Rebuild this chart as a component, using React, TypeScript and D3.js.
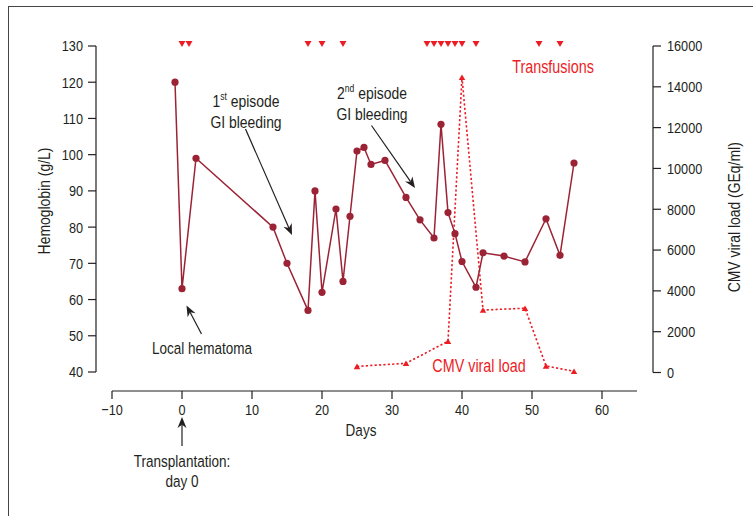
import React from "react";
import * as d3 from "d3";

const hbDays = [-1, 0, 2, 13, 15, 18, 19, 20, 22, 23, 24, 25, 26, 27, 29, 32, 34, 36, 37, 38, 39, 40, 42, 43, 46, 49, 52, 54, 56];
const hbValues = [120, 63, 99, 80, 70, 57, 90, 62, 85, 65, 83, 101, 102, 97.3, 98.4, 88.2, 82, 77, 108.4, 84, 78.2, 70.5, 63.4, 72.9, 72, 70.4, 82.3, 72.2, 97.7];

const cmvDays = [25, 32, 38, 40, 43, 49, 52, 56];
const cmvValues = [300, 450, 1530, 14470, 3060, 3150, 320, 60];

const transfusionDays = [0, 1, 18, 20, 23, 35, 36, 37, 38, 39, 40, 42, 51, 54];

const xTicks = [-10, 0, 10, 20, 30, 40, 50, 60];
const hbTicks = [40, 50, 60, 70, 80, 90, 100, 110, 120, 130];
const cmvTicks = [0, 2000, 4000, 6000, 8000, 10000, 12000, 14000, 16000];

const FONT = "'Liberation Sans', Arial, sans-serif";
const INK = "#231f20";
const HB = "#9b2335";
const RED = "#ed1c24";
const SX = 0.82;

type TProps = {
  x: number; y: number; size: number; fill?: string; anchor?: string; rotate?: boolean; mid?: boolean; children: React.ReactNode;
};
function T({ x, y, size, fill = INK, anchor = "middle", rotate = false, mid = true, children }: TProps) {
  return (
    <text
      transform={`translate(${x},${y})${rotate ? " rotate(-90)" : ""} scale(${SX},1)`}
      textAnchor={anchor}
      dy={mid ? "0.35em" : undefined}
      fontSize={size}
      fill={fill}
    >
      {children}
    </text>
  );
}

function Arrow({ x1, y1, x2, y2 }: { x1: number; y1: number; x2: number; y2: number }) {
  const ang = Math.atan2(y2 - y1, x2 - x1);
  const L = 11, W = 4.5;
  const bx = x2 - L * Math.cos(ang), by = y2 - L * Math.sin(ang);
  const nx = -Math.sin(ang), ny = Math.cos(ang);
  const mx = x2 - (L * 0.7) * Math.cos(ang), my = y2 - (L * 0.7) * Math.sin(ang);
  return (
    <g>
      <line x1={x1} y1={y1} x2={mx} y2={my} stroke={INK} strokeWidth={1.2} />
      <path d={`M${x2},${y2} L${bx + nx * W},${by + ny * W} L${mx},${my} L${bx - nx * W},${by - ny * W} Z`} fill={INK} />
    </g>
  );
}

export default function App() {
  const x = d3.scaleLinear().domain([-10, 65]).range([112, 637]);
  const yHb = d3.scaleLinear().domain([40, 130]).range([372, 46]);
  const yCmv = d3.scaleLinear().domain([0, 16000]).range([372.5, 46]);

  const hbPts = hbDays.map((d, i) => [x(d), yHb(hbValues[i])] as [number, number]);
  const cmvPts = cmvDays.map((d, i) => [x(d), yCmv(cmvValues[i])] as [number, number]);
  const line = d3.line();

  const tri = (cx: number, cy: number, s: number, up: boolean) => {
    const h = s * 0.85;
    return up
      ? `M${cx},${cy - h / 2} L${cx + s / 2},${cy + h / 2} L${cx - s / 2},${cy + h / 2} Z`
      : `M${cx},${cy + h / 2} L${cx + s / 2},${cy - h / 2} L${cx - s / 2},${cy - h / 2} Z`;
  };

  return (
    <svg width={753} height={516} style={{ position: "absolute", left: 0, top: 0 }} fontFamily={FONT}>
      <rect x={0} y={0} width={753} height={516} fill="#fff" />
      <rect x={8.5} y={6.5} width={760} height={530} fill="none" stroke="#444" strokeWidth={1} />

      {/* left axis */}
      <line x1={96} x2={96} y1={yHb(130)} y2={yHb(40)} stroke={INK} strokeWidth={1.2} />
      {hbTicks.map((t) => (
        <g key={t}>
          <line x1={88} x2={96} y1={yHb(t)} y2={yHb(t)} stroke={INK} strokeWidth={1.2} />
          <T x={83} y={yHb(t)} anchor="end" size={15.5}>{t}</T>
        </g>
      ))}
      <T x={50} y={(yHb(130) + yHb(40)) / 2 - 8} size={17} rotate mid={false}>Hemoglobin (g/L)</T>

      {/* right axis */}
      <line x1={653} x2={653} y1={yCmv(16000)} y2={yCmv(0)} stroke={INK} strokeWidth={1.2} />
      {cmvTicks.map((t) => (
        <g key={t}>
          <line x1={653} x2={661} y1={yCmv(t)} y2={yCmv(t)} stroke={INK} strokeWidth={1.2} />
          <T x={667} y={yCmv(t)} anchor="start" size={15.5}>{t}</T>
        </g>
      ))}
      <T x={740} y={(yCmv(16000) + yCmv(0)) / 2 + 8} size={17} rotate mid={false}>CMV viral load (GEq/ml)</T>

      {/* x axis */}
      <line x1={x(-10)} x2={x(65)} y1={391} y2={391} stroke={INK} strokeWidth={1.2} />
      {xTicks.map((t) => (
        <g key={t}>
          <line x1={x(t)} x2={x(t)} y1={391} y2={399} stroke={INK} strokeWidth={1.2} />
          <T x={x(t)} y={410} size={15.5}>{t < 0 ? `\u2212${Math.abs(t)}` : t}</T>
        </g>
      ))}
      <T x={361} y={430} size={16.5}>Days</T>

      {/* CMV line */}
      <path d={line(cmvPts) || ""} fill="none" stroke={RED} strokeWidth={1.6} strokeDasharray="2.2,2.2" />
      {cmvPts.map((p, i) => (
        <path key={i} d={tri(p[0], p[1], 6.5, true)} fill={RED} />
      ))}

      {/* Hemoglobin */}
      <path d={line(hbPts) || ""} fill="none" stroke={HB} strokeWidth={1.5} />
      {hbPts.map((p, i) => (
        <circle key={i} cx={p[0]} cy={p[1]} r={3.6} fill={HB} />
      ))}

      {/* transfusions */}
      {transfusionDays.map((d, i) => (
        <path key={i} d={tri(x(d), 44, 7, false)} fill={RED} />
      ))}

      {/* annotations */}
      <T x={553} y={67} size={17.5} fill={RED}>Transfusions</T>
      <T x={479} y={366} size={17.5} fill={RED}>CMV viral load</T>

      <T x={246} y={101} size={17}>
        1<tspan fontSize={10.5} dy={-6.5}>st</tspan><tspan dy={6.5}> episode</tspan>
      </T>
      <T x={246} y={122} size={17}>GI bleeding</T>
      <Arrow x1={245.5} y1={129} x2={292} y2={235} />

      <T x={372} y={93} size={17}>
        2<tspan fontSize={10.5} dy={-6.5}>nd</tspan><tspan dy={6.5}> episode</tspan>
      </T>
      <T x={372} y={114} size={17}>GI bleeding</T>
      <Arrow x1={371.5} y1={125.5} x2={415} y2={188} />

      <T x={202} y={348} size={16.5}>Local hematoma</T>
      <Arrow x1={201.5} y1={334} x2={186.5} y2={305.5} />

      <Arrow x1={182} y1={446} x2={182} y2={417} />
      <T x={182} y={461} size={16.5}>Transplantation:</T>
      <T x={182} y={481} size={16.5}>day 0</T>
    </svg>
  );
}
